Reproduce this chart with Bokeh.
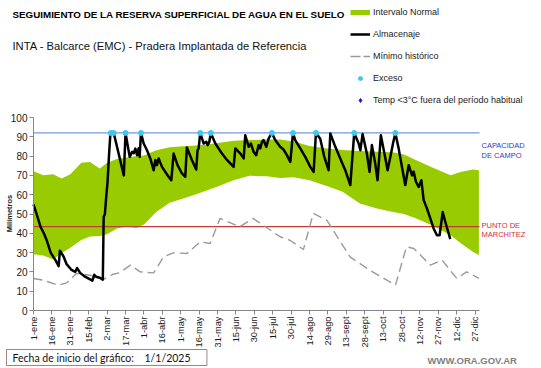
import math
from bokeh.plotting import figure
from bokeh.models import (Range1d, Label, Legend, LegendItem, FixedTicker)
from bokeh.embed import file_html
from bokeh.resources import INLINE

# ---------------- data ----------------
tick_days = [0, 15, 30, 45, 60, 75, 90, 105, 120, 135, 150, 165, 180, 195, 210,
             225, 240, 255, 270, 285, 300, 315, 330, 345, 360]
tick_labels = ["1-ene", "16-ene", "31-ene", "15-feb", "2-mar", "17-mar", "1-abr",
               "16-abr", "1-may", "16-may", "31-may", "15-jun", "30-jun", "15-jul",
               "30-jul", "14-ago", "29-ago", "13-sept", "28-sept", "13-oct", "28-oct",
               "12-nov", "27-nov", "12-dic", "27-dic"]
y_ticks = [0, 10, 20, 30, 40, 50, 60, 70, 80, 90, 100]

band_days = [0, 8, 16, 23, 30, 39, 46, 54, 60, 68, 76, 84, 90, 100, 111, 122, 136,
             149, 163, 176, 190, 201, 212, 225, 239, 252, 266, 280, 293, 302, 312,
             326, 340, 348, 358, 363]
band_upper = [72.2, 70.1, 70.6, 68.4, 70.6, 76.5, 76.9, 73.6, 76.5, 78.5, 79.3, 80.0,
              80.3, 83.0, 84.6, 85.1, 85.6, 86.6, 88.0, 88.3, 88.6, 88.6, 87.6, 85.2,
              84.0, 83.2, 82.7, 82.2, 82.0, 80.8, 77.9, 73.8, 70.1, 71.8, 73.1, 72.7]
band_lower = [29.2, 28.5, 26.4, 29.8, 32.5, 36.5, 38.3, 38.6, 39.5, 42.5, 43.5, 42.8,
              44.5, 51.0, 55.8, 58.0, 61.0, 64.0, 67.5, 69.8, 69.6, 68.6, 69.0, 67.5,
              64.5, 61.5, 55.5, 52.8, 51.0, 50.0, 47.7, 43.8, 39.0, 35.0, 30.5, 28.7]

min_days = [0, 8, 20, 27, 35, 46, 57, 65, 70, 79, 87, 98, 106, 114, 125, 136, 144,
            152, 168, 179, 201, 209, 220, 228, 239, 258, 274, 295, 304, 310, 323.5,
            333, 345, 353, 363]
min_values = [16.6, 15.7, 13.1, 14.3, 19.2, 18.3, 16.1, 18.8, 19.5, 23.5, 20.0, 19.5,
              27.8, 29.9, 29.5, 35.6, 34.7, 47.7, 43.4, 47.7, 38.2, 36.4, 31.6, 50.3,
              46.8, 27.8, 20.9, 13.1, 33.0, 32.1, 23.5, 26.1, 16.6, 20.0, 16.6]

alm_days = [0, 3, 5.7, 8.4, 11, 14, 18, 20.5, 21.5, 24.5, 27, 31, 34, 35.5, 38, 42,
            45, 48, 49.5, 51, 54, 56.5, 57.2, 58.2, 59.4, 60.3, 61.5, 62.7, 65.4,
            73.6, 75, 78.4, 80.4, 81.7, 83, 84.4, 85.7, 86.5, 87.6, 89.8, 92.5, 95.2,
            97.9, 99.3, 100.6, 102, 104.7, 107.4, 110.1, 112.3, 114.2, 117.4, 121,
            123.7, 125, 129.1, 132.6, 133.7, 134.6, 135.9, 138.7, 140.8, 141.9, 143.3,
            144.5, 148.2, 153.6, 157.7, 160.4, 163.1, 164.5, 168.6, 171.3, 172.6,
            175.4, 177.2, 179.4, 181.5, 183.5, 184.8, 186.2, 187.5, 189.7, 191.6,
            194.3, 197, 201, 203.8, 206.5, 209.3, 211.5, 213.3, 217.4, 221.5, 225.6,
            228.3, 230.2, 233.7, 237, 240.5, 241.9, 246, 250, 254.1, 258.2, 261.4,
            265, 266.4, 268.2, 271.7, 273.9, 275.8, 278.5, 280.4, 283.1, 286.8,
            288.6, 291.4, 293, 294.9, 297.6, 300.3, 303, 305.8, 308.5, 309.8, 311.7,
            313.9, 316.1, 318, 320.7, 323.4, 326.1, 328.8, 331, 333.5, 335.6, 339.7]
alm_values = [55, 49, 43.4, 40, 36, 30, 26, 23, 31, 28, 24, 21, 20, 22, 19.5, 17.5,
              16.5, 15.5, 18.5, 17.5, 17, 16, 48.5, 50, 60, 66, 80, 92, 92,
              70, 92, 79.6, 82.2, 81.5, 83.9, 80.5, 84, 79.6, 92, 86.5, 83, 78.8,
              72.7, 78, 75.3, 78.8, 74.4, 71.8, 69.3, 67.5, 81.3, 75.3, 71,
              69.3, 84.5, 78, 73, 83, 84, 92, 86.5, 87.4, 85.7, 87.4,
              92, 86.5, 81.3, 78, 76.2, 74.4, 84, 81.3, 78.8, 90.8,
              84.8, 86.5, 82.2, 80.5, 85.7, 84, 87.4, 88.3, 84.8, 89,
              92, 88.3, 84.8, 83.4, 80.5, 77, 92, 88.3, 84, 79.6, 74.4,
              71.8, 92, 89, 79.6, 72.7, 91.7, 84.8, 78.8, 72.7, 65, 92,
              86.5, 83, 91.4, 81.3, 71.8, 85.7, 76.2, 67.5, 90.8, 78.8,
              72.7, 81.3, 86.5, 92, 84, 74.4, 65, 75.3, 70, 72, 66.7,
              64, 67.5, 57.2, 52.8, 47.7, 42.5, 39, 39, 51, 46, 37]

exceso_days = [63, 65.4, 75, 87.6, 135.9, 144.5, 194.3, 211.5, 230.2, 261.4, 294.9]
exceso_values = [92, 92, 92, 92, 92, 92, 92, 92, 92, 92, 92]

# no "Temp <3°C" events in this period
temp_days = []
temp_values = []

capacidad_campo = 92
punto_marchitez = 43.5
day_first, day_last = 0, 363.5
y_min, y_max = 0, 100

# ---------------- geometry (page pixel -> data) ----------------
W, H = 541, 368
FL, FR, FT, FB = 33, 479, 117, 310          # where the plotting area sits
SX = (FR - FL) / (day_last - day_first)      # px per day
SY = (FB - FT) / (y_max - y_min)             # px per mm


def px(xp):
    return day_first + (xp - FL) / SX


def py(yp):
    return y_min + (FB - yp) / SY


FONT = "Liberation Sans"
GREEN = "#99cc00"
NAN = float("nan")

p = figure(width=W, height=H, output_backend="svg", toolbar_location=None,
           x_range=Range1d(px(0), px(W)), y_range=Range1d(py(H), py(0)),
           min_border=0)
p.outline_line_color = None
p.xgrid.visible = False
p.ygrid.visible = False
p.background_fill_color = "white"
p.border_fill_color = "white"

# band
p.varea(x=band_days, y1=band_lower, y2=band_upper, fill_color=GREEN, fill_alpha=1.0)

# reference lines (only across the plotting area)
p.segment(x0=[day_first, day_first], x1=[day_last, day_last],
          y0=[capacidad_campo, punto_marchitez], y1=[capacidad_campo, punto_marchitez],
          line_color=["#7896e0", "#bf3f34"], line_width=1.2)

# minimum
p.line(min_days, min_values, line_color="#9a9a9a", line_width=1.4, line_dash="9 5")

# legend proxies (draw nothing in the plot)
min_leg = p.line([NAN], [NAN], line_color="#9a9a9a", line_width=1.4, line_dash="10 3")
green_leg = p.line([NAN], [NAN], line_color=GREEN, line_width=5)

alm = p.line(alm_days, alm_values, line_color="black", line_width=2.5,
             line_join="round")
exc = p.scatter(exceso_days, exceso_values, marker="circle", size=5,
                fill_color="#3cc8f0", line_color="#3cc8f0")
p.scatter(temp_days, temp_values, marker="diamond", size=7, fill_color="#1c1ca8",
          line_color="#1c1ca8")
temp_leg = p.scatter([NAN], [NAN], marker="diamond", size=7, fill_color="#1c1ca8",
                     line_color="#1c1ca8")

# axes, pinned to the plotting area corner
for ax in (p.xaxis[0], p.yaxis[0]):
    ax.axis_line_color = "#868686"
    ax.major_tick_line_color = "#868686"
    ax.major_tick_out = 4
    ax.major_tick_in = 0
    ax.minor_tick_out = 0
    ax.minor_tick_in = 0
    ax.major_label_text_font = FONT
    ax.major_label_text_color = "#1a1a1a"
    ax.major_label_standoff = 2

p.xaxis.fixed_location = y_min
p.xaxis.bounds = (day_first, day_last)
p.xaxis.ticker = FixedTicker(ticks=tick_days)
p.xaxis.major_label_overrides = {d: l for d, l in zip(tick_days, tick_labels)}
p.xaxis.major_label_orientation = math.pi / 2
p.xaxis.major_label_text_font_size = "9.3px"

p.yaxis.fixed_location = day_first
p.yaxis.bounds = (y_min, y_max)
p.yaxis.ticker = FixedTicker(ticks=y_ticks)
p.yaxis.major_label_text_font_size = "10px"

# legend (top right)
legend = Legend(items=[
    LegendItem(label="Intervalo Normal", renderers=[green_leg]),
    LegendItem(label="Almacenaje", renderers=[alm]),
    LegendItem(label="Mínimo histórico", renderers=[min_leg]),
    LegendItem(label="Exceso", renderers=[exc]),
    LegendItem(label="Temp <3°C fuera del período habitual", renderers=[temp_leg]),
], location=(350, H - 104.5), glyph_width=20, glyph_height=10, label_height=10,
    label_standoff=3, spacing=12, padding=0, margin=0, border_line_color=None,
    background_fill_alpha=0, label_text_font=FONT, label_text_font_size="9px",
    label_text_color="#222222")
p.add_layout(legend)


def lab(x, y, text, size, color="#000000", style="normal", font=FONT, angle=0,
        align="left"):
    lbl = Label(x=x, y=y, text=text, text_font=font, text_font_size=size,
                text_color=color, text_font_style=style, text_baseline="middle",
                text_align=align, angle=angle)
    p.add_layout(lbl)
    return lbl


lab(px(12), py(14), "SEGUIMIENTO DE LA RESERVA SUPERFICIAL DE AGUA EN EL SUELO",
    "9.8px", style="bold")
lab(px(12), py(45), "INTA - Balcarce (EMC) - Pradera Implantada  de Referencia",
    "11.2px", color="#111111")
lab(px(481), py(145), "CAPACIDAD", "7.5px", color="#3a3ab8")
lab(px(481), py(154.5), "DE  CAMPO", "7.5px", color="#3a3ab8")
lab(px(481), py(225), "PUNTO  DE", "7.5px", color="#cc3333")
lab(px(481), py(233.5), "MARCHITEZ", "7.5px", color="#cc3333")
lab(px(8.5), py(213), "Milímetros", "7.5px", style="bold", angle=math.pi / 2,
    align="center", color="#222222")
lab(px(427), py(359.5), "WWW.ORA.GOV.AR", "9.5px", color="#808080", style="bold")

box = Label(x=px(6), y=py(357), text="Fecha de inicio del gráfico:",
            text_font="Lato", text_font_size="10.5px", text_color="#111111",
            text_baseline="middle", text_align="left",
            border_line_color="#9c8585", border_line_width=1,
            background_fill_color="white",
            padding=dict(left=6, right=73, top=2, bottom=2))
p.add_layout(box)
lab(px(144), py(357), "1/1/2025", "10.5px", font="Lato", color="#111111")

open("out.html", "w").write(file_html(p, INLINE))
